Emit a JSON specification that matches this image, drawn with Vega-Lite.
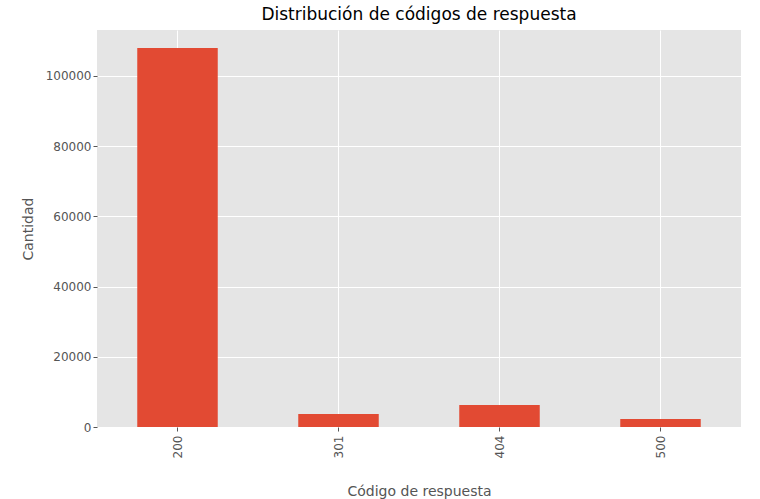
{
  "$schema": "https://vega.github.io/schema/vega-lite/v6.json",
  "width": 644,
  "height": 397,
  "autosize": {"type": "none"},
  "padding": {"left": 97, "top": 30, "right": 19, "bottom": 72},
  "background": "white",
  "config": {
    "font": "DejaVu Sans",
    "view": {"fill": "#E5E5E5", "stroke": null},
    "axis": {
      "grid": true, "gridColor": "white", "gridWidth": 1,
      "domain": false, "tickColor": "#555555", "tickSize": 4,
      "labelColor": "#555555", "labelFontSize": 12,
      "titleColor": "#555555", "titleFontSize": 14, "titleFontWeight": "normal"
    }
  },
  "title": {"text": "Distribución de códigos de respuesta", "fontSize": 17, "fontWeight": "normal", "color": "black", "offset": 6},
  "data": {
    "values": [
      {"code": "200", "count": 108000},
      {"code": "301", "count": 3700},
      {"code": "404", "count": 6250},
      {"code": "500", "count": 2300}
    ]
  },
  "mark": {"type": "bar", "color": "#E24A33"},
  "encoding": {
    "x": {"field": "code", "type": "nominal", "title": "Código de respuesta",
      "scale": {"paddingInner": 0.5, "paddingOuter": 0.25},
      "axis": {"labelAngle": -90, "labelPadding": 4, "titleY": 57}},
    "y": {"field": "count", "type": "quantitative", "title": "Cantidad",
      "scale": {"domain": [0, 113100], "nice": false},
      "axis": {"values": [0, 20000, 40000, 60000, 80000, 100000], "format": "d", "titlePadding": 10}}
  }
}
